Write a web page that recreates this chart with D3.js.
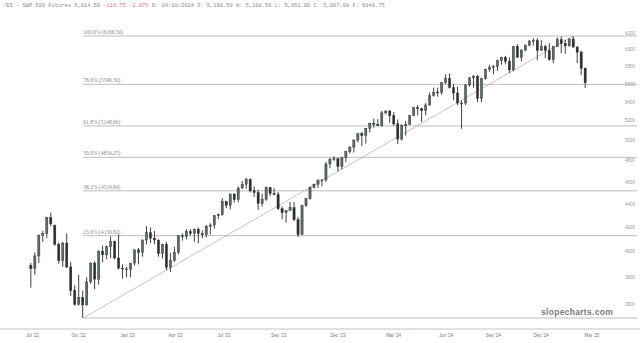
<!DOCTYPE html>
<html>
<head>
<meta charset="utf-8">
<script src="https://cdn.jsdelivr.net/npm/d3@7"></script>
<style>
  body { margin: 0; background: #fff; }
  svg { display: block; }
</style>
</head>
<body>
<script>
const svg_width = 640;
const svg_height = 343;

// weekly candles, [open, high, low, close], one row per week starting Mon 11 Jul 2022
const ohlc2022 = [
  [3890,3910,3722,3868],[3868,3995,3820,3966],[3966,4140,3910,4133],[4133,4170,4080,4148],
  [4148,4290,4110,4284],[4284,4327,4210,4230],[4215,4225,4050,4060],[4060,4075,3905,3930],
  [3930,4080,3880,4070],[4070,4150,3870,3880],[3880,3920,3660,3700],[3700,3740,3590,3600],
  [3600,3820,3590,3650],[3650,3700,3502,3595],[3595,3800,3590,3765],[3765,3915,3750,3910],
  [3910,3925,3710,3785],[3785,4010,3745,4005],[4005,4050,3915,3975],[3975,4050,3940,4040],
  [4040,4125,3950,4085],[4085,4090,3940,3950],[3950,4140,3860,3870],[3870,3900,3790,3865],
  [3865,3880,3800,3860]
];
const ohlc2023 = [
  [3860,3910,3800,3910],[3910,4020,3890,4015],[4015,4030,3900,3995],[3995,4100,3960,4095],
  [4095,4210,4060,4155],[4155,4200,4070,4110],[4110,4170,4060,4095],[4095,4100,3960,3985],
  [3985,4065,3945,4060],[4060,4080,3855,3875],[3875,3990,3840,3930],[3930,4040,3920,3995],
  [3995,4135,3980,4130],[4130,4150,4090,4125],[4125,4185,4100,4165],[4165,4185,4130,4150],
  [4150,4190,4080,4185],[4185,4200,4070,4150],[4150,4175,4110,4140],[4140,4220,4115,4210],
  [4210,4235,4140,4220],[4220,4305,4190,4300],[4300,4320,4270,4310],[4310,4455,4300,4425],
  [4425,4430,4365,4390],[4390,4495,4355,4490],[4490,4500,4415,4440],[4440,4560,4420,4545],
  [4545,4610,4540,4580],[4580,4640,4540,4625],[4625,4635,4505,4520],[4520,4560,4465,4505],
  [4505,4530,4350,4405],[4405,4495,4380,4445],[4445,4560,4430,4550],[4550,4555,4470,4495],
  [4495,4545,4480,4485],[4485,4510,4350,4360],[4360,4380,4270,4325],[4325,4340,4240,4345],
  [4345,4420,4340,4370],[4370,4420,4255,4265],[4265,4290,4120,4140],[4140,4395,4135,4390],
  [4390,4455,4375,4450],[4450,4560,4440,4550],[4550,4585,4540,4580],[4580,4620,4545,4620],
  [4620,4625,4560,4620],[4620,4790,4600,4770],[4770,4830,4730,4815],[4815,4845,4800,4820]
];
const ohlc2024 = [
  [4820,4830,4700,4745],[4745,4840,4720,4830],[4830,4895,4790,4890],[4890,4940,4870,4935],
  [4935,5010,4880,5005],[5005,5070,4980,5070],[5070,5085,4945,5050],[5050,5130,4970,5125],
  [5125,5180,5080,5175],[5175,5225,5130,5165],[5165,5220,5145,5150],[5150,5305,5140,5285],
  [5285,5310,5270,5305],[5305,5315,5180,5255],[5255,5295,5150,5170],[5170,5215,4965,5015],
  [5015,5165,5000,5155],[5155,5200,5050,5165],[5165,5260,5160,5255],[5255,5345,5250,5340],
  [5340,5370,5260,5330],[5330,5340,5190,5310],[5310,5390,5260,5370],[5370,5505,5360,5470],
  [5470,5560,5460,5510],[5510,5560,5460,5505],[5505,5620,5480,5615],[5615,5710,5600,5665],
  [5665,5721,5550,5560],[5560,5600,5420,5500],[5500,5570,5370,5390],[5390,5420,5120,5390],
  [5390,5600,5370,5590],[5590,5680,5570,5670],[5670,5700,5560,5690],[5690,5700,5400,5440],
  [5440,5670,5400,5660],[5660,5775,5650,5765],[5765,5820,5740,5790],[5790,5820,5710,5800],
  [5800,5880,5750,5870],[5870,5915,5820,5910],[5910,5925,5825,5860],[5860,5905,5725,5760],
  [5760,6040,5745,6040],[6040,6065,5900,5910],[5910,6005,5860,5995],[5995,6060,5980,6055],
  [6055,6115,6040,6105],[6105,6140,6050,6110],[6110,6140,5875,5990],[5990,6115,5990,6040],
  [6040,6060,5900,5990]
];
const ohlc2025 = [
  [5990,6080,5870,5880],[5880,6045,5840,6040],[6040,6150,6030,6125],[6125,6160,5960,6075],
  [6075,6120,5950,6045],[6045,6135,6040,6130],[6130,6166.5,6030,6030],[6030,6045,5840,5970],
  [5970,5990,5700,5780],[5780,5790,5555,5614.5]
];

// fibonacci anchor (swing low -> swing high)
const swingLow = { date: "2022-10-13", value: 3502 };
const swingHigh = { date: "2025-02-19", value: 6166.5 };
const fibRatios = [1, 0.786, 0.618, 0.5, 0.382, 0.236, 0];

const yTicks = [3600, 3800, 4000, 4200, 4400, 4600, 4800, 5000, 5200, 5400, 5600, 5800, 6000, 6200];
const xTickLabels = ["Jul '22", "Oct '22", "Jan '23", "Apr '23", "Jul '23", "Sep '23", "Dec '23", "Mar '24", "Jun '24", "Sep '24", "Dec '24", "Mar '25"];
const xTickDates = ["2022-07-15", "2022-10-04", "2022-12-29", "2023-03-23", "2023-06-16", "2023-09-20", "2024-01-02", "2024-04-09", "2024-07-10", "2024-10-01", "2024-12-24", "2025-03-23"];

const parse = d3.timeParse("%Y-%m-%d");
const weekStarts = d3.timeMonday.range(parse("2022-07-11"), parse("2025-03-11"));
const candles = [].concat(ohlc2022, ohlc2023, ohlc2024, ohlc2025).map((r, i) => ({
    date: d3.timeDay.offset(weekStarts[i], 2),
    open: r[0], high: r[1], low: r[2], close: r[3]
}));

const svg = d3.select("body").append("svg")
    .attr("width", svg_width)
    .attr("height", svg_height);

svg.append("rect").attr("width", svg_width).attr("height", svg_height).attr("fill", "#fff");

const xScale = d3.scaleTime()
    .domain([parse("2022-07-01"), parse("2025-03-31")])
    .range([24, 596]);

const yScale = d3.scaleLog()
    .domain([swingLow.value, swingHigh.value])
    .range([318, 36]);

// header line
const header = svg.append("text")
    .attr("x", 3).attr("y", 7)
    .attr("font-family", "Liberation Mono, monospace")
    .attr("font-size", 5.4)
    .attr("fill", "#8a8a8a");
header.append("tspan").text("/ES - S&P 500 Futures 5,614.50 ");
header.append("tspan").attr("fill", "#e8707a").text("-110.75 -2.07%");
header.append("tspan").text(" D: 04/10/2024 O: 5,168.50 H: 5,168.50 L: 5,051.00 C: 5,067.00 F: 6040.75");

// y axis labels on the right
svg.append("g").selectAll("text")
    .data(yTicks)
    .enter()
    .append("text")
    .attr("x", 635)
    .attr("y", d => yScale(d) + 1.5)
    .attr("text-anchor", "end")
    .attr("font-family", "Liberation Sans, sans-serif")
    .attr("font-size", 4.5)
    .attr("fill", "#999")
    .text(d => d);

// x axis
svg.append("line")
    .attr("x1", 0).attr("x2", svg_width)
    .attr("y1", 329).attr("y2", 329)
    .attr("stroke", "#c4c4c4").attr("stroke-width", 1);

const xAxis = d3.axisBottom(xScale)
    .tickValues(xTickDates.map(parse))
    .tickFormat((d, i) => xTickLabels[i])
    .tickSize(0)
    .tickPadding(5);

const xg = svg.append("g").attr("transform", "translate(0, 329)").call(xAxis);
xg.select(".domain").remove();
xg.selectAll("text")
    .attr("font-family", "Liberation Sans, sans-serif")
    .attr("font-size", 4.5)
    .attr("fill", "#777");

// fibonacci levels
const x0 = xScale(parse(swingLow.date));
const x1 = xScale(parse(swingHigh.date));
const range = swingHigh.value - swingLow.value;
const levels = fibRatios.map(r => ({ r: r, v: swingLow.value + r * range }));

svg.append("g").selectAll("line")
    .data(levels)
    .enter()
    .append("line")
    .attr("x1", x0).attr("x2", 637)
    .attr("y1", d => yScale(d.v)).attr("y2", d => yScale(d.v))
    .attr("stroke", "#bdbdbd").attr("stroke-width", 1);

svg.append("g").selectAll("text")
    .data(levels.filter(d => d.r > 0))
    .enter()
    .append("text")
    .attr("x", x0)
    .attr("y", d => yScale(d.v) - 2)
    .attr("font-family", "Liberation Serif, serif")
    .attr("font-size", 5.5)
    .attr("fill", "#888")
    .text(d => (d.r * 100).toFixed(1) + "% (" + d.v.toFixed(2) + ")");

// trend line low -> high
svg.append("line")
    .attr("x1", x0).attr("y1", yScale(swingLow.value))
    .attr("x2", x1).attr("y2", yScale(swingHigh.value))
    .attr("stroke", "#b5b5b5").attr("stroke-width", 0.8);

// watermark
svg.append("text")
    .attr("x", 577).attr("y", 315)
    .attr("text-anchor", "middle")
    .attr("font-family", "Liberation Sans, sans-serif")
    .attr("font-weight", "bold")
    .attr("font-size", 8.5)
    .attr("letter-spacing", 0.3)
    .attr("fill", "#7a7a7a")
    .text("slopecharts.com");

// candles
const bw = 2.2;
const cg = svg.append("g");
cg.selectAll("line")
    .data(candles)
    .enter()
    .append("line")
    .attr("x1", d => xScale(d.date)).attr("x2", d => xScale(d.date))
    .attr("y1", d => yScale(d.high)).attr("y2", d => yScale(d.low))
    .attr("stroke", "#2e2e2e").attr("stroke-width", 0.9);

cg.selectAll("rect")
    .data(candles)
    .enter()
    .append("rect")
    .attr("x", d => xScale(d.date) - bw / 2)
    .attr("width", bw)
    .attr("y", d => yScale(Math.max(d.open, d.close)))
    .attr("height", d => Math.max(0.8, Math.abs(yScale(d.open) - yScale(d.close))))
    .attr("fill", d => d.close >= d.open ? "#55705d" : "#2e2e2e")
    .attr("stroke", "#2e2e2e")
    .attr("stroke-width", 0.4);
</script>
</body>
</html>
